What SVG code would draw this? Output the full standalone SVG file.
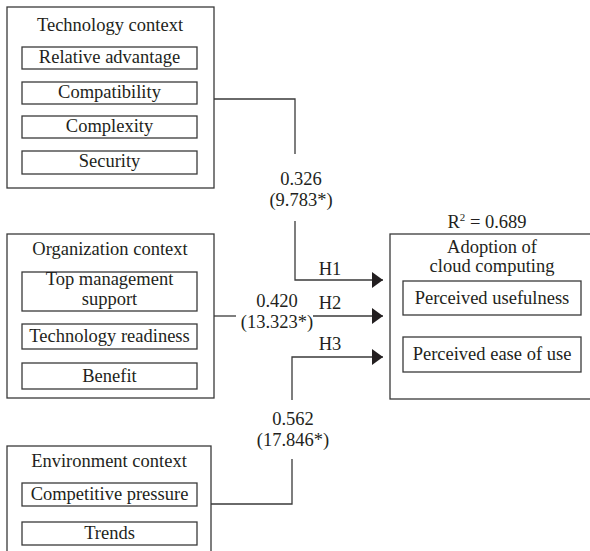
<svg xmlns="http://www.w3.org/2000/svg" width="590" height="551" viewBox="0 0 590 551" font-family="'Liberation Serif', 'Times New Roman', 'DejaVu Serif', serif">
<style>
text{font-family:'Liberation Serif','Times New Roman','DejaVu Serif',serif;font-size:18.5px;fill:#231f20;text-anchor:middle}
.box{fill:#fff;stroke:#3a3a3a;stroke-width:1.3}
.ln{fill:none;stroke:#3a3a3a;stroke-width:1.3}
</style>
<defs>
<marker id="ah" viewBox="0 0 11 16" refX="11" refY="8" markerWidth="11" markerHeight="16" markerUnits="userSpaceOnUse" orient="auto">
<path d="M0,0 L11,8 L0,16 Z" fill="#231f20"/>
</marker>
</defs>
<rect width="590" height="551" fill="#fff"/>
<g id="tech">
<rect class="box" x="7" y="7" width="207" height="181"/>
<text x="110" y="31">Technology context</text>
<rect class="box" x="22" y="47" width="175" height="22"/>
<text x="109.5" y="63">Relative advantage</text>
<rect class="box" x="22" y="82" width="175" height="22"/>
<text x="109.5" y="98">Compatibility</text>
<rect class="box" x="22" y="116" width="175" height="22"/>
<text x="109.5" y="132">Complexity</text>
<rect class="box" x="22" y="151" width="175" height="23"/>
<text x="109.5" y="167">Security</text>
</g>
<g id="org">
<rect class="box" x="7" y="234" width="207" height="164"/>
<text x="110" y="255">Organization context</text>
<rect class="box" x="22" y="272" width="175" height="39"/>
<text x="109.5" y="285">Top management</text>
<text x="109.5" y="305">support</text>
<rect class="box" x="22" y="324" width="175" height="25"/>
<text x="109.5" y="342">Technology readiness</text>
<rect class="box" x="22" y="363" width="175" height="26"/>
<text x="109.5" y="382">Benefit</text>
</g>
<g id="env">
<rect class="box" x="7" y="446" width="204" height="120"/>
<text x="109" y="467">Environment context</text>
<rect class="box" x="22" y="483" width="175" height="23"/>
<text x="109.5" y="500">Competitive pressure</text>
<rect class="box" x="22" y="522" width="175" height="23"/>
<text x="109.5" y="539">Trends</text>
</g>
<g id="adoption">
<text x="487" y="228">R<tspan font-size="11" dy="-7">2</tspan><tspan dy="7"> = 0.689</tspan></text>
<rect class="box" x="390" y="234" width="210" height="165"/>
<text x="492" y="253">Adoption of</text>
<text x="492" y="272">cloud computing</text>
<rect class="box" x="403" y="281" width="178" height="34"/>
<text x="492" y="304">Perceived usefulness</text>
<rect class="box" x="403" y="337" width="178" height="35"/>
<text x="492" y="360">Perceived ease of use</text>
</g>
<g id="connectors">
<polyline class="ln" points="214,99 295,99 295,154"/>
<polyline class="ln" points="295,221 295,280 383,280" marker-end="url(#ah)"/>
<line class="ln" x1="214" y1="316" x2="236" y2="316"/>
<line class="ln" x1="313" y1="316" x2="383" y2="316" marker-end="url(#ah)"/>
<polyline class="ln" points="211,504 292,504 292,459"/>
<polyline class="ln" points="292,400 292,357 383,357" marker-end="url(#ah)"/>
<text x="301" y="185">0.326</text>
<text x="301" y="206">(9.783*)</text>
<text x="277" y="307">0.420</text>
<text x="277" y="328">(13.323*)</text>
<text x="293" y="425">0.562</text>
<text x="293" y="446">(17.846*)</text>
<text x="330" y="275">H1</text>
<text x="330" y="309">H2</text>
<text x="330" y="350">H3</text>
</g>
</svg>
